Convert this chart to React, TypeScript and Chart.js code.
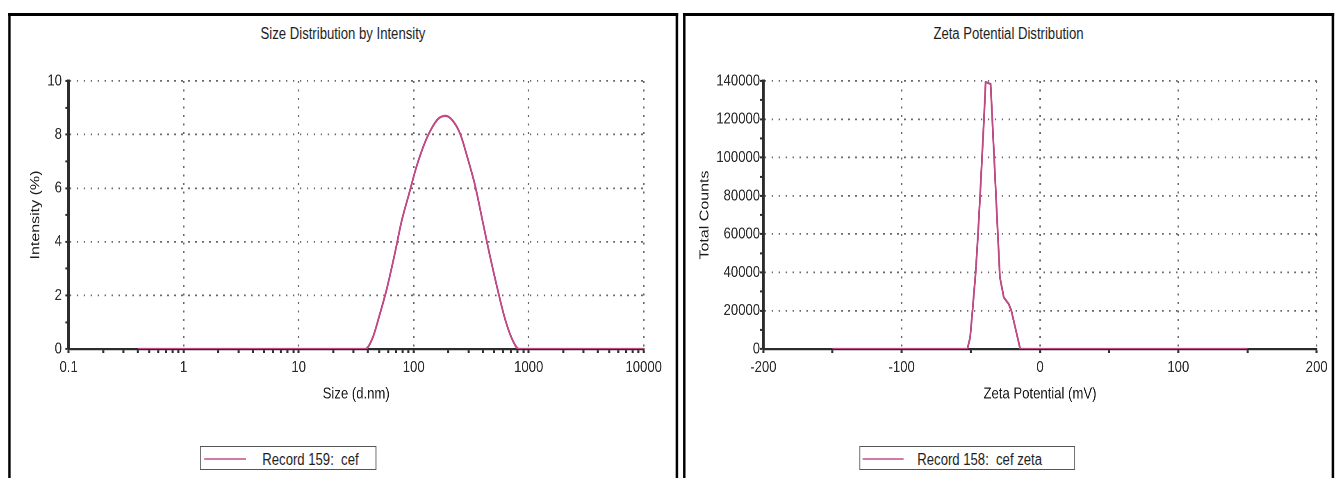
import React, { useEffect, useRef } from "react";
import { Chart, registerables } from "chart.js";

Chart.register(...registerables);

// ---------------- data ----------------
const SIZE_NM = [
  0.4, 0.4632, 0.5365, 0.6213, 0.7195, 0.8332, 0.9649, 1.117, 1.294, 1.499,
  1.736, 2.01, 2.328, 2.696, 3.122, 3.615, 4.187, 4.849, 5.615, 6.503,
  7.531, 8.721, 10.1, 11.7, 13.54, 15.69, 18.17, 21.04, 24.36, 28.21,
  32.67, 37.84, 43.82, 50.75, 58.77, 68.06, 78.82, 91.28, 105.7, 122.4,
  141.8, 164.2, 190.1, 220.2, 255.0, 295.3, 342.0, 396.1, 458.7, 531.2,
  615.1, 712.4, 825.0, 955.4, 1106, 1281, 1484, 1718, 1990, 2305,
  2669, 3091, 3580, 4145, 4801, 5560, 6439, 7456, 8635, 10000,
];
const INTENSITY_PCT = [
  0, 0, 0, 0, 0, 0, 0, 0, 0, 0,
  0, 0, 0, 0, 0, 0, 0, 0, 0, 0,
  0, 0, 0, 0, 0, 0, 0, 0, 0, 0,
  0, 0, 0.4, 1.3, 2.3, 3.5, 4.8, 5.8, 6.8, 7.6,
  8.2, 8.6, 8.7, 8.5, 8.0, 7.1, 6.1, 4.8, 3.5, 2.3,
  1.2, 0.4, 0, 0, 0, 0, 0, 0, 0, 0,
  0, 0, 0, 0, 0, 0, 0, 0, 0, 0,
];

const ZETA_MV = [-150, -52.5, -50.5, -48.8, -46.5, -44.8, -43.3, -41.9, -40.5, -39.3, -35.7, -29.0, -26.2, -22.6, -20.7, -14.3, 150];
const TOTAL_COUNTS = [0, 0, 6000, 20000, 40000, 60000, 80000, 100000, 120000, 139500, 138400, 37500, 27000, 23500, 20000, 0, 0];

const SIZE_MAJOR_TICKS = [0.1, 1, 10, 100, 1000, 10000];
const SIZE_MINOR_STEPS = [2, 3, 4, 5, 6, 7, 8, 9];
const INTENSITY_TICKS = [0, 2, 4, 6, 8, 10];
const INTENSITY_MINOR = [1, 3, 5, 7, 9];
const ZETA_TICKS = [-200, -100, 0, 100, 200];
const ZETA_MINOR = [-150, -50, 50, 150];
const COUNT_TICKS = [0, 20000, 40000, 60000, 80000, 100000, 120000, 140000];
const COUNT_MINOR = [10000, 30000, 50000, 70000, 90000, 110000, 130000];

const SIZE_TITLE = "Size Distribution by Intensity";
const SIZE_X_TITLE = "Size (d.nm)";
const SIZE_Y_TITLE = "Intensity (%)";
const SIZE_LEGEND = "Record 159:  cef";
const ZETA_TITLE = "Zeta Potential Distribution";
const ZETA_X_TITLE = "Zeta Potential (mV)";
const ZETA_Y_TITLE = "Total Counts";
const ZETA_LEGEND = "Record 158:  cef zeta";

// ---------------- look ----------------
const SX = 0.82; // the reference is squeezed horizontally
const px = (v: number) => v / SX;
const FONT = '"Liberation Sans", Arial, Helvetica, sans-serif';
const LINE = "#bf4c86";
const LEGEND_LINE = "#d27aa6";
const GRID = "rgba(95,95,95,0.95)";
const AXIS = "#2c2c2c";
const TEXT = "#1e1e1e";

Chart.defaults.font.family = FONT;
Chart.defaults.color = TEXT;

function tickSet(major: number[], minor: number[]) {
  return [...major, ...minor].sort((a, b) => a - b).map((v) => ({ value: v }));
}

function axisStyle(major: number[], vertical: boolean, tickPad: number) {
  const set = new Set(major);
  return {
    grid: {
      color: (c: any) => (c.tick && set.has(c.tick.value) ? GRID : "rgba(0,0,0,0)"),
      lineWidth: vertical ? 1.8 : 2,
      tickColor: AXIS,
      tickLength: 4,
      tickWidth: vertical ? 2 : 2.5,
      drawTicks: true,
    },
    border: { display: true, color: AXIS, width: vertical ? 3 : 2.2, dash: [2, 6.5] },
    ticks: {
      autoSkip: false,
      maxRotation: 0,
      padding: tickPad,
      color: "#2a2a2a",
      font: { family: FONT, size: 16 },
      callback: (v: any) => (set.has(Number(v)) ? String(v) : ""),
    },
  };
}

// plot top sits 65px below the canvas top (title is drawn as HTML above)
function baseOptions(padRight: number) {
  return {
    responsive: false,
    animation: false as const,
    devicePixelRatio: 2,
    layout: { padding: { left: 0, right: padRight, top: 65, bottom: 0 } },
    plugins: {
      legend: { display: false },
      tooltip: { enabled: false },
      title: { display: false },
    },
  };
}

function sizeConfig(): any {
  const minor = SIZE_MAJOR_TICKS.slice(0, -1).flatMap((d) => SIZE_MINOR_STEPS.map((m) => m * d));
  const xs = axisStyle(SIZE_MAJOR_TICKS, false, 5);
  const ys = axisStyle(INTENSITY_TICKS, true, 4.2);
  return {
    type: "line",
    data: {
      datasets: [
        {
          label: SIZE_LEGEND,
          data: SIZE_NM.map((x, i) => ({ x, y: INTENSITY_PCT[i] })),
          borderColor: LINE,
          borderWidth: 2.3,
          pointRadius: 0,
          fill: false,
          cubicInterpolationMode: "monotone",
        },
      ],
    },
    options: {
      ...baseOptions(37),
      scales: {
        x: {
          type: "logarithmic",
          min: 0.1,
          max: 10000,
          ...xs,
          afterBuildTicks: (s: any) => {
            s.ticks = tickSet(SIZE_MAJOR_TICKS, minor);
          },
          afterFit: (s: any) => {
            s.height = 83;
          },
          title: {
            display: true,
            text: SIZE_X_TITLE,
            color: TEXT,
            font: { family: FONT, size: 16 },
            padding: { top: 0, bottom: 28.4 },
          },
        },
        y: {
          type: "linear",
          min: 0,
          max: 10,
          ...ys,
          afterBuildTicks: (s: any) => {
            s.ticks = tickSet(INTENSITY_TICKS, INTENSITY_MINOR);
          },
          afterFit: (s: any) => {
            s.width = px(58);
          },
          title: {
            display: true,
            text: SIZE_Y_TITLE,
            color: TEXT,
            font: { family: FONT, size: 16 },
            padding: { top: 20.9, bottom: 0 },
          },
        },
      },
    },
  };
}

function zetaConfig(): any {
  const xs = axisStyle(ZETA_TICKS, false, 5);
  const ys = axisStyle(COUNT_TICKS, true, 0);
  return {
    type: "line",
    data: {
      datasets: [
        {
          label: ZETA_LEGEND,
          data: ZETA_MV.map((x, i) => ({ x, y: TOTAL_COUNTS[i] })),
          borderColor: LINE,
          borderWidth: 2.3,
          pointRadius: 0,
          fill: false,
          tension: 0,
        },
      ],
    },
    options: {
      ...baseOptions(17.5),
      scales: {
        x: {
          type: "linear",
          min: -200,
          max: 200,
          ...xs,
          afterBuildTicks: (s: any) => {
            s.ticks = tickSet(ZETA_TICKS, ZETA_MINOR);
          },
          afterFit: (s: any) => {
            s.height = 83;
          },
          title: {
            display: true,
            text: ZETA_X_TITLE,
            color: TEXT,
            font: { family: FONT, size: 16 },
            padding: { top: 0, bottom: 28.4 },
          },
        },
        y: {
          type: "linear",
          min: 0,
          max: 140000,
          ...ys,
          afterBuildTicks: (s: any) => {
            s.ticks = tickSet(COUNT_TICKS, COUNT_MINOR);
          },
          afterFit: (s: any) => {
            s.width = px(77);
          },
          title: {
            display: true,
            text: ZETA_Y_TITLE,
            color: TEXT,
            font: { family: FONT, size: 16 },
            padding: { top: 12.9, bottom: 0 },
          },
        },
      },
    },
  };
}

function ChartCanvas(props: { left: number; top: number; width: number; height: number; make: () => any }) {
  const ref = useRef<HTMLCanvasElement | null>(null);
  useEffect(() => {
    if (!ref.current) return;
    const chart = new Chart(ref.current, props.make());
    return () => chart.destroy();
  }, []);
  return (
    <canvas
      ref={ref}
      width={props.width}
      height={props.height}
      style={{ position: "absolute", left: props.left, top: props.top, width: props.width, height: props.height }}
    />
  );
}

function Panel(props: { x0: number; x1: number; title: string }) {
  return (
    <div
      style={{
        position: "absolute",
        left: px(props.x0),
        top: 13,
        width: px(props.x1 - props.x0),
        height: 480,
        boxSizing: "border-box",
        borderTop: "3px solid #000",
        borderLeft: `${px(3)}px solid #000`,
        borderRight: `${px(3)}px solid #000`,
        background: "#fff",
      }}
    >
      <div
        style={{
          position: "absolute",
          left: 0,
          right: 0,
          top: 6.5,
          height: 21,
          lineHeight: "21px",
          textAlign: "center",
          fontFamily: FONT,
          fontSize: 16,
          color: TEXT,
          whiteSpace: "pre",
        }}
      >
        {props.title}
      </div>
    </div>
  );
}

function LegendBox(props: { x0: number; x1: number; lineX0: number; lineX1: number; textX: number; label: string }) {
  const b = 1.5;
  return (
    <div
      style={{
        position: "absolute",
        left: px(props.x0),
        top: 446,
        width: px(props.x1 - props.x0),
        height: 24,
        boxSizing: "border-box",
        borderTop: `${b}px solid #555`,
        borderBottom: `${b}px solid #555`,
        borderLeft: `${px(b)}px solid #555`,
        borderRight: `${px(b)}px solid #555`,
        background: "#fff",
      }}
    >
      <div
        style={{
          position: "absolute",
          left: px(props.lineX0 - props.x0 - b),
          top: 10.5,
          width: px(props.lineX1 - props.lineX0),
          height: 2,
          background: LEGEND_LINE,
        }}
      />
      <div
        style={{
          position: "absolute",
          left: px(props.textX - props.x0 - b),
          top: 1.5,
          height: 21,
          lineHeight: "21px",
          fontFamily: FONT,
          fontSize: 16,
          color: TEXT,
          whiteSpace: "pre",
        }}
      >
        {props.label}
      </div>
    </div>
  );
}

export default function App() {
  useEffect(() => {
    document.body.style.margin = "0";
    document.body.style.background = "#fff";
  }, []);
  return (
    <div
      style={{
        position: "fixed",
        left: 0,
        top: 0,
        width: px(1336),
        height: 478,
        overflow: "hidden",
        background: "#fff",
        transform: `scaleX(${SX})`,
        transformOrigin: "0 0",
      }}
    >
      <Panel x0={8} x1={678} title={SIZE_TITLE} />
      <Panel x0={683} x1={1334} title={ZETA_TITLE} />
      <ChartCanvas left={px(11)} top={16} width={Math.round(px(663))} height={416} make={sizeConfig} />
      <ChartCanvas left={px(686)} top={16} width={Math.round(px(645))} height={416} make={zetaConfig} />
      <LegendBox x0={200} x1={376} lineX0={205} lineX1={247} textX={263} label={SIZE_LEGEND} />
      <LegendBox x0={859} x1={1075} lineX0={863} lineX1={904} textX={918} label={ZETA_LEGEND} />
    </div>
  );
}
